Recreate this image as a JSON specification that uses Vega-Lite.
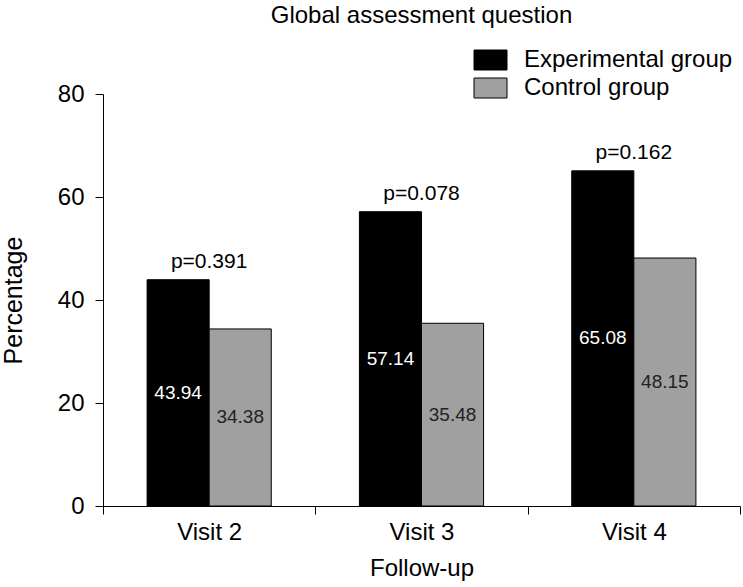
{
  "$schema": "https://vega.github.io/schema/vega-lite/v6.json",
  "width": 637,
  "height": 412,
  "autosize": {"type": "none"},
  "padding": {"left": 103, "top": 94, "right": 3, "bottom": 81},
  "background": "white",
  "title": {"text": "Global assessment question", "fontSize": 24, "font": "Liberation Sans", "fontWeight": "normal", "color": "#000", "anchor": "middle", "offset": 20},
  "config": {
    "font": "Liberation Sans",
    "view": {"stroke": null},
    "axis": {"domainColor": "#000", "tickColor": "#000", "labelColor": "#000", "titleColor": "#000", "titleFontWeight": "normal", "grid": false, "labelFont": "Liberation Sans", "titleFont": "Liberation Sans"}
  },
  "datasets": {
    "bars": [
      {"visit": "Visit 2", "group": "Experimental group", "pct": 43.94},
      {"visit": "Visit 2", "group": "Control group", "pct": 34.38},
      {"visit": "Visit 3", "group": "Experimental group", "pct": 57.14},
      {"visit": "Visit 3", "group": "Control group", "pct": 35.48},
      {"visit": "Visit 4", "group": "Experimental group", "pct": 65.08},
      {"visit": "Visit 4", "group": "Control group", "pct": 48.15}
    ],
    "pvals": [
      {"visit": "Visit 2", "top": 43.94, "p": "p=0.391"},
      {"visit": "Visit 3", "top": 57.14, "p": "p=0.078"},
      {"visit": "Visit 4", "top": 65.08, "p": "p=0.162"}
    ]
  },
  "layer": [
    {
      "data": {"name": "bars"},
      "mark": {"type": "bar", "stroke": "#000", "strokeWidth": 1},
      "encoding": {
        "x": {"field": "visit", "type": "nominal", "scale": {"paddingInner": 0, "paddingOuter": 0},
          "axis": {"title": "Follow-up", "labelAngle": 0, "tickBand": "extent", "tickSize": 8, "labelFontSize": 24, "titleFontSize": 24, "labelPadding": 6, "titlePadding": 12}},
        "xOffset": {"field": "group", "type": "nominal", "sort": ["Experimental group", "Control group"], "scale": {"paddingInner": 0, "paddingOuter": 0.71}},
        "y": {"field": "pct", "type": "quantitative", "scale": {"domain": [0, 80]},
          "axis": {"title": "Percentage", "values": [0, 20, 40, 60, 80], "tickSize": 8, "labelPadding": 11, "labelFontSize": 24, "titleFontSize": 25, "titlePadding": 31}},
        "color": {"field": "group", "type": "nominal", "sort": ["Experimental group", "Control group"],
          "scale": {"domain": ["Experimental group", "Control group"], "range": ["#000000", "#a0a0a0"]},
          "legend": {"title": null, "orient": "none", "legendX": 375.5, "legendY": -46, "symbolType": "M-1.65,-1H1.65V1H-1.65Z", "symbolSize": 400, "symbolStrokeColor": "#000", "symbolStrokeWidth": 1, "symbolOpacity": 1, "labelFontSize": 24, "labelColor": "#000", "labelFont": "Liberation Sans", "labelOffset": 21.5, "labelLimit": 0, "rowPadding": 4, "padding": 0}}
      }
    },
    {
      "data": {"name": "bars"},
      "transform": [{"calculate": "datum.pct / 2", "as": "labelPos"}],
      "mark": {"type": "text", "fontSize": 19, "baseline": "middle", "font": "Liberation Sans"},
      "encoding": {
        "x": {"field": "visit", "type": "nominal"},
        "xOffset": {"field": "group", "type": "nominal", "sort": ["Experimental group", "Control group"]},
        "y": {"field": "labelPos", "type": "quantitative"},
        "text": {"field": "pct", "type": "quantitative", "format": ".2f"},
        "color": {"condition": {"test": "datum.group === 'Experimental group'", "value": "#ffffff"}, "value": "#222222"}
      }
    },
    {
      "data": {"name": "pvals"},
      "mark": {"type": "text", "fontSize": 21, "baseline": "alphabetic", "dy": -12, "font": "Liberation Sans", "color": "#000"},
      "encoding": {
        "x": {"field": "visit", "type": "nominal"},
        "y": {"field": "top", "type": "quantitative"},
        "text": {"field": "p", "type": "nominal"}
      }
    }
  ]
}
